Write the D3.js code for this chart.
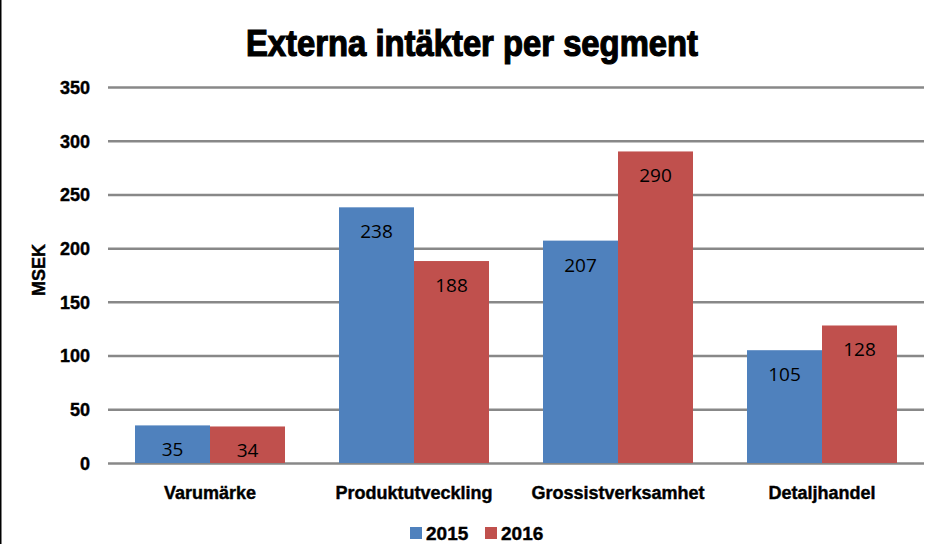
<!DOCTYPE html>
<html>
<head>
<meta charset="utf-8">
<script src="https://cdn.jsdelivr.net/npm/d3@7"></script>
<style>
  html, body { margin: 0; padding: 0; background: #fff; }
  svg { display: block; }
</style>
</head>
<body>
<svg id="chart" width="947" height="544"></svg>
<script>
const title = "Externa intäkter per segment";
const categories = ["Varumärke", "Produktutveckling", "Grossistverksamhet", "Detaljhandel"];
const seriesNames = ["2015", "2016"];
const values2015 = [35, 238, 207, 105];
const values2016 = [34, 188, 290, 128];
const yTicks = [0, 50, 100, 150, 200, 250, 300, 350];
const yLabel = "MSEK";
const colors = ["#4F81BD", "#C0504D"];

const W = 947, H = 544;
const plot = { left: 108, right: 924, top: 87, bottom: 463 };
const svg = d3.select("#chart");
const boldFont = "'Liberation Sans Narrow', 'Arial Narrow', 'Liberation Sans', sans-serif";
const valueFont = "'Open Sans', 'Noto Sans', sans-serif";

svg.append("rect").attr("x", 0).attr("y", 0).attr("width", W).attr("height", H).attr("fill", "#fff");
svg.append("line").attr("x1", 0.75).attr("x2", 0.75).attr("y1", 0).attr("y2", H)
  .attr("stroke", "#000").attr("stroke-width", 1.5);

const x0 = d3.scaleBand().domain(categories).range([plot.left, plot.right]).paddingInner(0).paddingOuter(0);
const x1 = d3.scaleBand().domain(seriesNames).range([27, x0.bandwidth() - 27]).padding(0);
const y = d3.scaleLinear().domain([0, 350]).range([plot.bottom, plot.top]);

// title
svg.append("text").attr("x", 472).attr("y", 56).attr("text-anchor", "middle")
  .attr("font-family", boldFont).attr("font-weight", "bold").attr("font-size", 36)
  .attr("textLength", 452).attr("lengthAdjust", "spacingAndGlyphs")
  .attr("fill", "#000").attr("stroke", "#000").attr("stroke-width", 1.2).text(title);

// gridlines
const yAxis = d3.axisLeft(y).tickValues(yTicks).tickSize(-(plot.right - plot.left)).tickPadding(18).tickFormat(d3.format("d"));
const gy = svg.append("g").attr("transform", `translate(${plot.left},0)`).call(yAxis);
gy.select(".domain").remove();
gy.selectAll(".tick line").attr("stroke", "#888").attr("stroke-width", 2.5);
gy.selectAll(".tick text").attr("font-family", boldFont).attr("font-weight", "bold")
  .attr("font-size", 18).attr("fill", "#000").attr("stroke", "#000").attr("stroke-width", 0.4).attr("dy", "0.35em");

// y label
svg.append("text").attr("transform", `translate(45,270) rotate(-90)`).attr("text-anchor", "middle")
  .attr("font-family", boldFont).attr("font-weight", "bold").attr("font-size", 18).attr("fill", "#000")
  .attr("stroke", "#000").attr("stroke-width", 0.4).text(yLabel);

// bars
const data = categories.map((c, i) => ({ cat: c, vals: [values2015[i], values2016[i]] }));
const groups = svg.append("g").selectAll("g").data(data).join("g")
  .attr("transform", d => `translate(${x0(d.cat)},0)`);
groups.selectAll("rect").data(d => d.vals.map((v, j) => ({ v, s: seriesNames[j], j })))
  .join("rect")
  .attr("x", d => x1(d.s)).attr("width", x1.bandwidth())
  .attr("y", d => y(d.v)).attr("height", d => y(0) - y(d.v))
  .attr("fill", d => colors[d.j]);
groups.selectAll("text").data(d => d.vals.map((v, j) => ({ v, s: seriesNames[j], j })))
  .join("text")
  .attr("x", d => x1(d.s) + x1.bandwidth() / 2).attr("y", d => y(d.v) + 31)
  .attr("text-anchor", "middle").attr("font-family", valueFont).attr("font-size", 19)
  .attr("fill", "#000").text(d => d.v);

// category labels
svg.append("g").selectAll("text").data(categories).join("text")
  .attr("x", d => x0(d) + x0.bandwidth() / 2).attr("y", 499).attr("text-anchor", "middle")
  .attr("font-family", boldFont).attr("font-weight", "bold").attr("font-size", 18).attr("fill", "#000")
  .attr("stroke", "#000").attr("stroke-width", 0.4)
  .text(d => d);

// legend
const legendX = [410, 485];
const lg = svg.append("g").selectAll("g").data(seriesNames).join("g")
  .attr("transform", (d, i) => `translate(${legendX[i]},527)`);
lg.append("rect").attr("width", 12).attr("height", 12).attr("fill", (d, i) => colors[i]);
lg.append("text").attr("x", 16).attr("y", 13).attr("font-family", boldFont).attr("font-weight", "bold")
  .attr("font-size", 19).attr("fill", "#000").attr("stroke", "#000").attr("stroke-width", 0.4).text(d => d);
</script>
</body>
</html>
